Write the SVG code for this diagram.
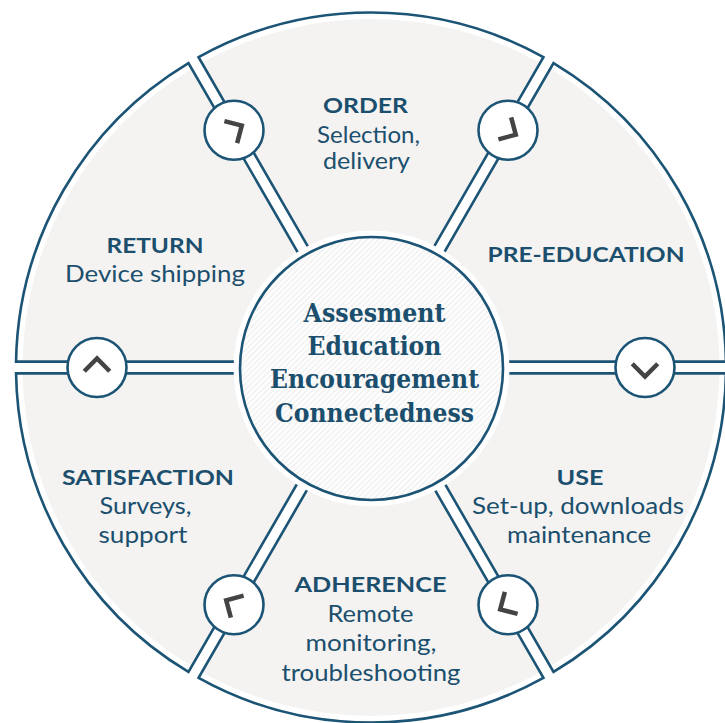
<svg xmlns="http://www.w3.org/2000/svg" width="725" height="723" viewBox="0 0 725 723">
<style>
.fill{fill:#f4f3f2;stroke:none}
.edge{fill:none;stroke:#1c5475;stroke-width:2.6;stroke-linejoin:miter}
.title{font-family:Lato,"Open Sans","Liberation Sans",sans-serif;font-weight:700;font-size:21.5px;fill:#1b4f6d;text-anchor:middle}
.sub{font-family:Lato,"Open Sans","Liberation Sans",sans-serif;font-weight:400;font-size:22.5px;fill:#1b4f6d;text-anchor:middle}
.core{font-family:"DejaVu Serif","Liberation Serif",serif;font-weight:700;font-size:26px;fill:#1b4f6d;text-anchor:middle}
.badge{fill:#ffffff;stroke:#1c5475;stroke-width:2.6}
.chev{fill:none;stroke:#444444;stroke-width:4.5;stroke-linecap:butt;stroke-linejoin:miter}
</style>
<defs>
<pattern id="hatch" patternUnits="userSpaceOnUse" width="4" height="4" patternTransform="rotate(45)">
<rect width="4" height="4" fill="#ffffff"/>
<line x1="1" y1="0" x2="1" y2="4" stroke="#ececec" stroke-width="1.2"/>
</pattern>
</defs>
<rect width="725" height="723" fill="#ffffff"/>

<g id="order">
<path class="fill" d="M428.87,255.57 L540.16,62.81 A348.5,348.5 0 0 0 201.84,62.81 L313.13,255.57 A126,126 0 0 1 428.87,255.57 Z"/>
<path class="edge" d="M428.87,255.57 L543.41,57.18 A355,355 0 0 0 198.59,57.18 L313.13,255.57"/>
<text class="title" x="365.5" y="113" textLength="85" lengthAdjust="spacingAndGlyphs">ORDER</text>
<text class="sub" x="368.5" y="143" textLength="103" lengthAdjust="spacingAndGlyphs">Selection,</text>
<text class="sub" x="366.5" y="169" textLength="87" lengthAdjust="spacingAndGlyphs">delivery</text>
</g>

<g id="pre-education">
<path class="fill" d="M496.86,361.65 L719.45,361.65 A348.5,348.5 0 0 0 550.29,68.66 L439,261.42 A126,126 0 0 1 496.86,361.65 Z"/>
<path class="edge" d="M496.86,361.65 L725.95,361.65 A355,355 0 0 0 553.54,63.03 L439,261.42"/>
<text class="title" x="586" y="262" textLength="197" lengthAdjust="spacingAndGlyphs">PRE-EDUCATION</text>
</g>

<g id="use">
<path class="fill" d="M439,473.58 L550.29,666.34 A348.5,348.5 0 0 0 719.45,373.35 L496.86,373.35 A126,126 0 0 1 439,473.58 Z"/>
<path class="edge" d="M439,473.58 L553.54,671.97 A355,355 0 0 0 725.95,373.35 L496.86,373.35"/>
<text class="title" x="580" y="485" textLength="47" lengthAdjust="spacingAndGlyphs">USE</text>
<text class="sub" x="578" y="514" textLength="212" lengthAdjust="spacingAndGlyphs">Set-up, downloads</text>
<text class="sub" x="579" y="543" textLength="144" lengthAdjust="spacingAndGlyphs">maintenance</text>
</g>

<g id="adherence">
<path class="fill" d="M313.13,479.43 L201.84,672.19 A348.5,348.5 0 0 0 540.16,672.19 L428.87,479.43 A126,126 0 0 1 313.13,479.43 Z"/>
<path class="edge" d="M313.13,479.43 L198.59,677.82 A355,355 0 0 0 543.41,677.82 L428.87,479.43"/>
<text class="title" x="370.5" y="592" textLength="152" lengthAdjust="spacingAndGlyphs">ADHERENCE</text>
<text class="sub" x="370.5" y="622" textLength="86" lengthAdjust="spacingAndGlyphs">Remote</text>
<text class="sub" x="371" y="651" textLength="131" lengthAdjust="spacingAndGlyphs">monitoring,</text>
<text class="sub" x="371" y="681" textLength="179" lengthAdjust="spacingAndGlyphs">troubleshooting</text>
</g>

<g id="satisfaction">
<path class="fill" d="M245.14,373.35 L22.55,373.35 A348.5,348.5 0 0 0 191.71,666.34 L303,473.58 A126,126 0 0 1 245.14,373.35 Z"/>
<path class="edge" d="M245.14,373.35 L16.05,373.35 A355,355 0 0 0 188.46,671.97 L303,473.58"/>
<text class="title" x="148" y="485" textLength="172" lengthAdjust="spacingAndGlyphs">SATISFACTION</text>
<text class="sub" x="145.5" y="514" textLength="92" lengthAdjust="spacingAndGlyphs">Surveys,</text>
<text class="sub" x="143" y="543" textLength="89" lengthAdjust="spacingAndGlyphs">support</text>
</g>

<g id="return">
<path class="fill" d="M303,261.42 L191.71,68.66 A348.5,348.5 0 0 0 22.55,361.65 L245.14,361.65 A126,126 0 0 1 303,261.42 Z"/>
<path class="edge" d="M303,261.42 L188.46,63.03 A355,355 0 0 0 16.05,361.65 L245.14,361.65"/>
<text class="title" x="155" y="253" textLength="97" lengthAdjust="spacingAndGlyphs">RETURN</text>
<text class="sub" x="155" y="282" textLength="180" lengthAdjust="spacingAndGlyphs">Device shipping</text>
</g>

<g id="center">
<circle cx="371.5" cy="368.5" r="138" fill="#ffffff"/>
<circle cx="371.5" cy="368.5" r="131.5" fill="url(#hatch)" stroke="#1c5475" stroke-width="2.6"/>
<text class="core" x="374.5" y="322" textLength="142" lengthAdjust="spacingAndGlyphs">Assesment</text>
<text class="core" x="374.5" y="355" textLength="134" lengthAdjust="spacingAndGlyphs">Education</text>
<text class="core" x="374.5" y="388" textLength="209" lengthAdjust="spacingAndGlyphs">Encouragement</text>
<text class="core" x="374.5" y="422" textLength="199" lengthAdjust="spacingAndGlyphs">Connectedness</text>
</g>

<g id="connectors">
<g id="return-to-order">
<circle class="badge" cx="234" cy="130.2" r="29.5"/>
<path class="chev" d="M224.4,121.05 L241.79,125.7 L237.14,143.09"/>
</g>
<g id="order-to-pre-education">
<circle class="badge" cx="508" cy="130.2" r="29.5"/>
<path class="chev" d="M511.14,117.31 L515.79,134.7 L498.4,139.35"/>
</g>
<g id="pre-education-to-use">
<circle class="badge" cx="645" cy="367.5" r="29.5"/>
<path class="chev" d="M632.27,363.77 L645,376.5 L657.73,363.77"/>
</g>
<g id="use-to-adherence">
<circle class="badge" cx="508" cy="604.8" r="29.5"/>
<path class="chev" d="M504.86,591.91 L500.21,609.3 L517.6,613.95"/>
</g>
<g id="adherence-to-satisfaction">
<circle class="badge" cx="234" cy="604.8" r="29.5"/>
<path class="chev" d="M230.86,617.69 L226.21,600.3 L243.6,595.65"/>
</g>
<g id="satisfaction-to-return">
<circle class="badge" cx="97" cy="367.5" r="29.5"/>
<path class="chev" d="M84.27,371.23 L97,358.5 L109.73,371.23"/>
</g>
</g>
</svg>
